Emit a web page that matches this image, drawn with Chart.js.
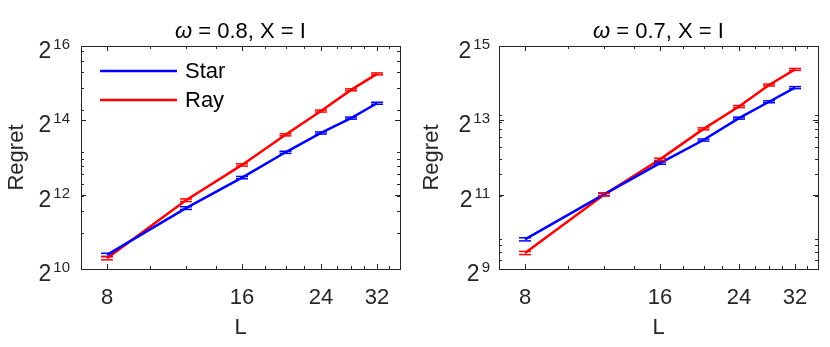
<!DOCTYPE html>
<html>
<head>
<meta charset="utf-8">
<script src="https://cdn.jsdelivr.net/npm/chart.js@4.4.0/dist/chart.umd.min.js"></script>
<style>
  body { margin: 0; background: #fff; }
  .panel { position: absolute; top: 0; width: 415px; height: 347px; }
</style>
</head>
<body>
<div class="panel" style="left:0"><canvas id="left" width="415" height="347"></canvas></div>
<div class="panel" style="left:415px"><canvas id="right" width="415" height="347"></canvas></div>
<script>
// problem sizes on the x axis
const L = [8, 12, 16, 20, 24, 28, 32];
const xTicks = [8, 10, 12, 14, 16, 18, 20, 22, 24, 26, 28, 30, 32, 34];
const xLabels = [8, 16, 24, 32];

// omega = 0.8
const starA = [1333, 3191, 5634, 9028, 12943, 17080, 22536];
const rayA = [1252, 3692, 7132, 12503, 19484, 28924, 38968];
const starErrA = [40, 80, 120, 180, 250, 320, 420];
const rayErrA = [38, 90, 150, 240, 360, 520, 700];
const yExpA = [10, 12, 14, 16];
const yMinorA = [2000, 3000, 4000, 5000, 6000, 7000, 8000, 9000, 20000, 30000, 40000, 50000, 60000];

// omega = 0.7
const starB = [891, 2062, 3692, 5673, 8540, 11585, 15077];
const rayB = [690, 2048, 3957, 6985, 10588, 15826, 21175];
const starErrB = [26, 50, 80, 110, 160, 210, 280];
const rayErrB = [20, 50, 85, 130, 200, 290, 380];
const yExpB = [9, 11, 13, 15];
const yMinorB = [600, 700, 800, 900, 2000, 3000, 4000, 5000, 6000, 7000, 8000, 9000];

const FONT = '"Liberation Sans", Arial, Helvetica, sans-serif';
const INK = '#262626';

const decor = {
  id: 'decor',
  afterDatasetsDraw(chart, args, o) {
    const ctx = chart.ctx;
    const a = chart.chartArea;
    const xs = chart.scales.x, ys = chart.scales.y;
    ctx.save();

    // error bar caps
    chart.data.datasets.forEach(ds => {
      ctx.strokeStyle = ds.borderColor;
      ctx.lineWidth = 1.5;
      ds.data.forEach((p, j) => {
        const x = xs.getPixelForValue(p.x);
        const e = ds.errs[j];
        [p.y - e, p.y + e].forEach(v => {
          const y = ys.getPixelForValue(v);
          ctx.beginPath();
          ctx.moveTo(x - 6, y);
          ctx.lineTo(x + 6, y);
          ctx.stroke();
        });
      });
    });

    // box
    ctx.strokeStyle = INK;
    ctx.lineWidth = 1;
    ctx.strokeRect(Math.round(a.left) + 0.5, Math.round(a.top) + 0.5,
      Math.round(a.right - a.left), Math.round(a.bottom - a.top));

    // ticks, inward on all four sides
    const tick = (x1, y1, x2, y2) => {
      ctx.beginPath(); ctx.moveTo(x1, y1); ctx.lineTo(x2, y2); ctx.stroke();
    };
    xTicks.forEach(v => {
      const x = Math.round(xs.getPixelForValue(v)) + 0.5;
      const len = xLabels.includes(v) ? 5 : 3;
      tick(x, a.bottom, x, a.bottom - len);
      tick(x, a.top, x, a.top + len);
    });
    const yMajor = o.exps.map(e => Math.pow(2, e));
    yMajor.concat(o.minor).forEach(v => {
      const y = Math.round(ys.getPixelForValue(v)) + 0.5;
      const len = yMajor.includes(v) ? 5 : 3;
      tick(a.left, y, a.left + len, y);
      tick(a.right, y, a.right - len, y);
    });

    // y tick labels 2^n
    ctx.fillStyle = INK;
    ctx.textBaseline = 'alphabetic';
    ctx.textAlign = 'left';
    o.exps.forEach(e => {
      const y = ys.getPixelForValue(Math.pow(2, e));
      ctx.font = '23px ' + FONT;
      const w2 = ctx.measureText('2').width;
      ctx.font = '15px ' + FONT;
      const we = ctx.measureText(String(e)).width;
      const x0 = a.left - o.gap - we - w2 - 2;
      ctx.font = '23px ' + FONT;
      ctx.fillText('2', x0, y + 12);
      ctx.font = '15px ' + FONT;
      ctx.fillText(String(e), x0 + w2 + 2, y + 3);
    });

    // title
    ctx.fillStyle = '#000';
    ctx.textBaseline = 'middle';
    ctx.font = 'italic 22px ' + FONT;
    const wo = ctx.measureText('\u03c9').width;
    ctx.font = '22px ' + FONT;
    const rest = ' = ' + o.omega + ', X = I';
    const wr = ctx.measureText(rest).width;
    const tx = (a.left + a.right) / 2 - (wo + wr) / 2;
    ctx.font = 'italic 22px ' + FONT;
    ctx.fillText('\u03c9', tx, 32);
    ctx.font = '22px ' + FONT;
    ctx.fillText(rest, tx + wo, 32);

    // legend
    if (o.legend) {
      ctx.font = '22px ' + FONT;
      chart.data.datasets.forEach((ds, i) => {
        const y = a.top + 25 + i * 29;
        ctx.strokeStyle = ds.borderColor;
        ctx.lineWidth = 2.5;
        tick(a.left + 19, y, a.left + 96, y);
        ctx.fillStyle = '#000';
        ctx.fillText(ds.label, a.left + 104, y + 1);
      });
    }
    ctx.restore();
  }
};

function makeChart(id, c) {
  new Chart(document.getElementById(id), {
    type: 'line',
    data: {
      datasets: [
        { label: 'Star', data: L.map((x, i) => ({ x: x, y: c.star[i] })), errs: c.starErr,
          borderColor: '#0000ff', borderWidth: 2.5, pointRadius: 0, tension: 0 },
        { label: 'Ray', data: L.map((x, i) => ({ x: x, y: c.ray[i] })), errs: c.rayErr,
          borderColor: '#ff0000', borderWidth: 2.5, pointRadius: 0, tension: 0 }
      ]
    },
    options: {
      responsive: false,
      animation: false,
      events: [],
      layout: { padding: { left: 0, right: c.padRight, top: 46, bottom: 0 } },
      plugins: {
        legend: { display: false },
        tooltip: { enabled: false },
        decor: { exps: c.exps, minor: c.minor, omega: c.omega, legend: c.legend, gap: c.gap }
      },
      scales: {
        x: {
          type: 'logarithmic', min: 7, max: 36,
          afterBuildTicks: s => { s.ticks = xTicks.map(v => ({ value: v })); },
          afterFit: s => { s.height = 78; },
          grid: { display: false }, border: { display: false },
          ticks: {
            autoSkip: false, maxRotation: 0, padding: 8, color: INK,
            font: { family: FONT, size: 22 },
            callback: v => xLabels.includes(v) ? String(v) : ''
          },
          title: { display: true, text: 'L', color: INK, font: { family: FONT, size: 22 },
                   padding: { top: 0, bottom: 6 } }
        },
        y: {
          type: 'logarithmic', min: Math.pow(2, c.exps[0]), max: Math.pow(2, c.exps[3]),
          afterBuildTicks: s => { s.ticks = c.exps.map(e => ({ value: Math.pow(2, e) })); },
          afterFit: s => { s.width = c.yWidth; },
          grid: { display: false }, border: { display: false },
          ticks: { display: false },
          title: { display: true, text: 'Regret', color: INK, font: { family: FONT, size: 22 },
                   padding: { top: 4, bottom: 0 } }
        }
      }
    },
    plugins: [decor]
  });
}

makeChart('left', { star: starA, ray: rayA, starErr: starErrA, rayErr: rayErrA,
  exps: yExpA, minor: yMinorA, omega: '0.8', legend: true, yWidth: 81, padRight: 15, gap: 11 });
makeChart('right', { star: starB, ray: rayB, starErr: starErrB, rayErr: rayErrB,
  exps: yExpB, minor: yMinorB, omega: '0.7', legend: false, yWidth: 84, padRight: 12, gap: 9 });
</script>
</body>
</html>
